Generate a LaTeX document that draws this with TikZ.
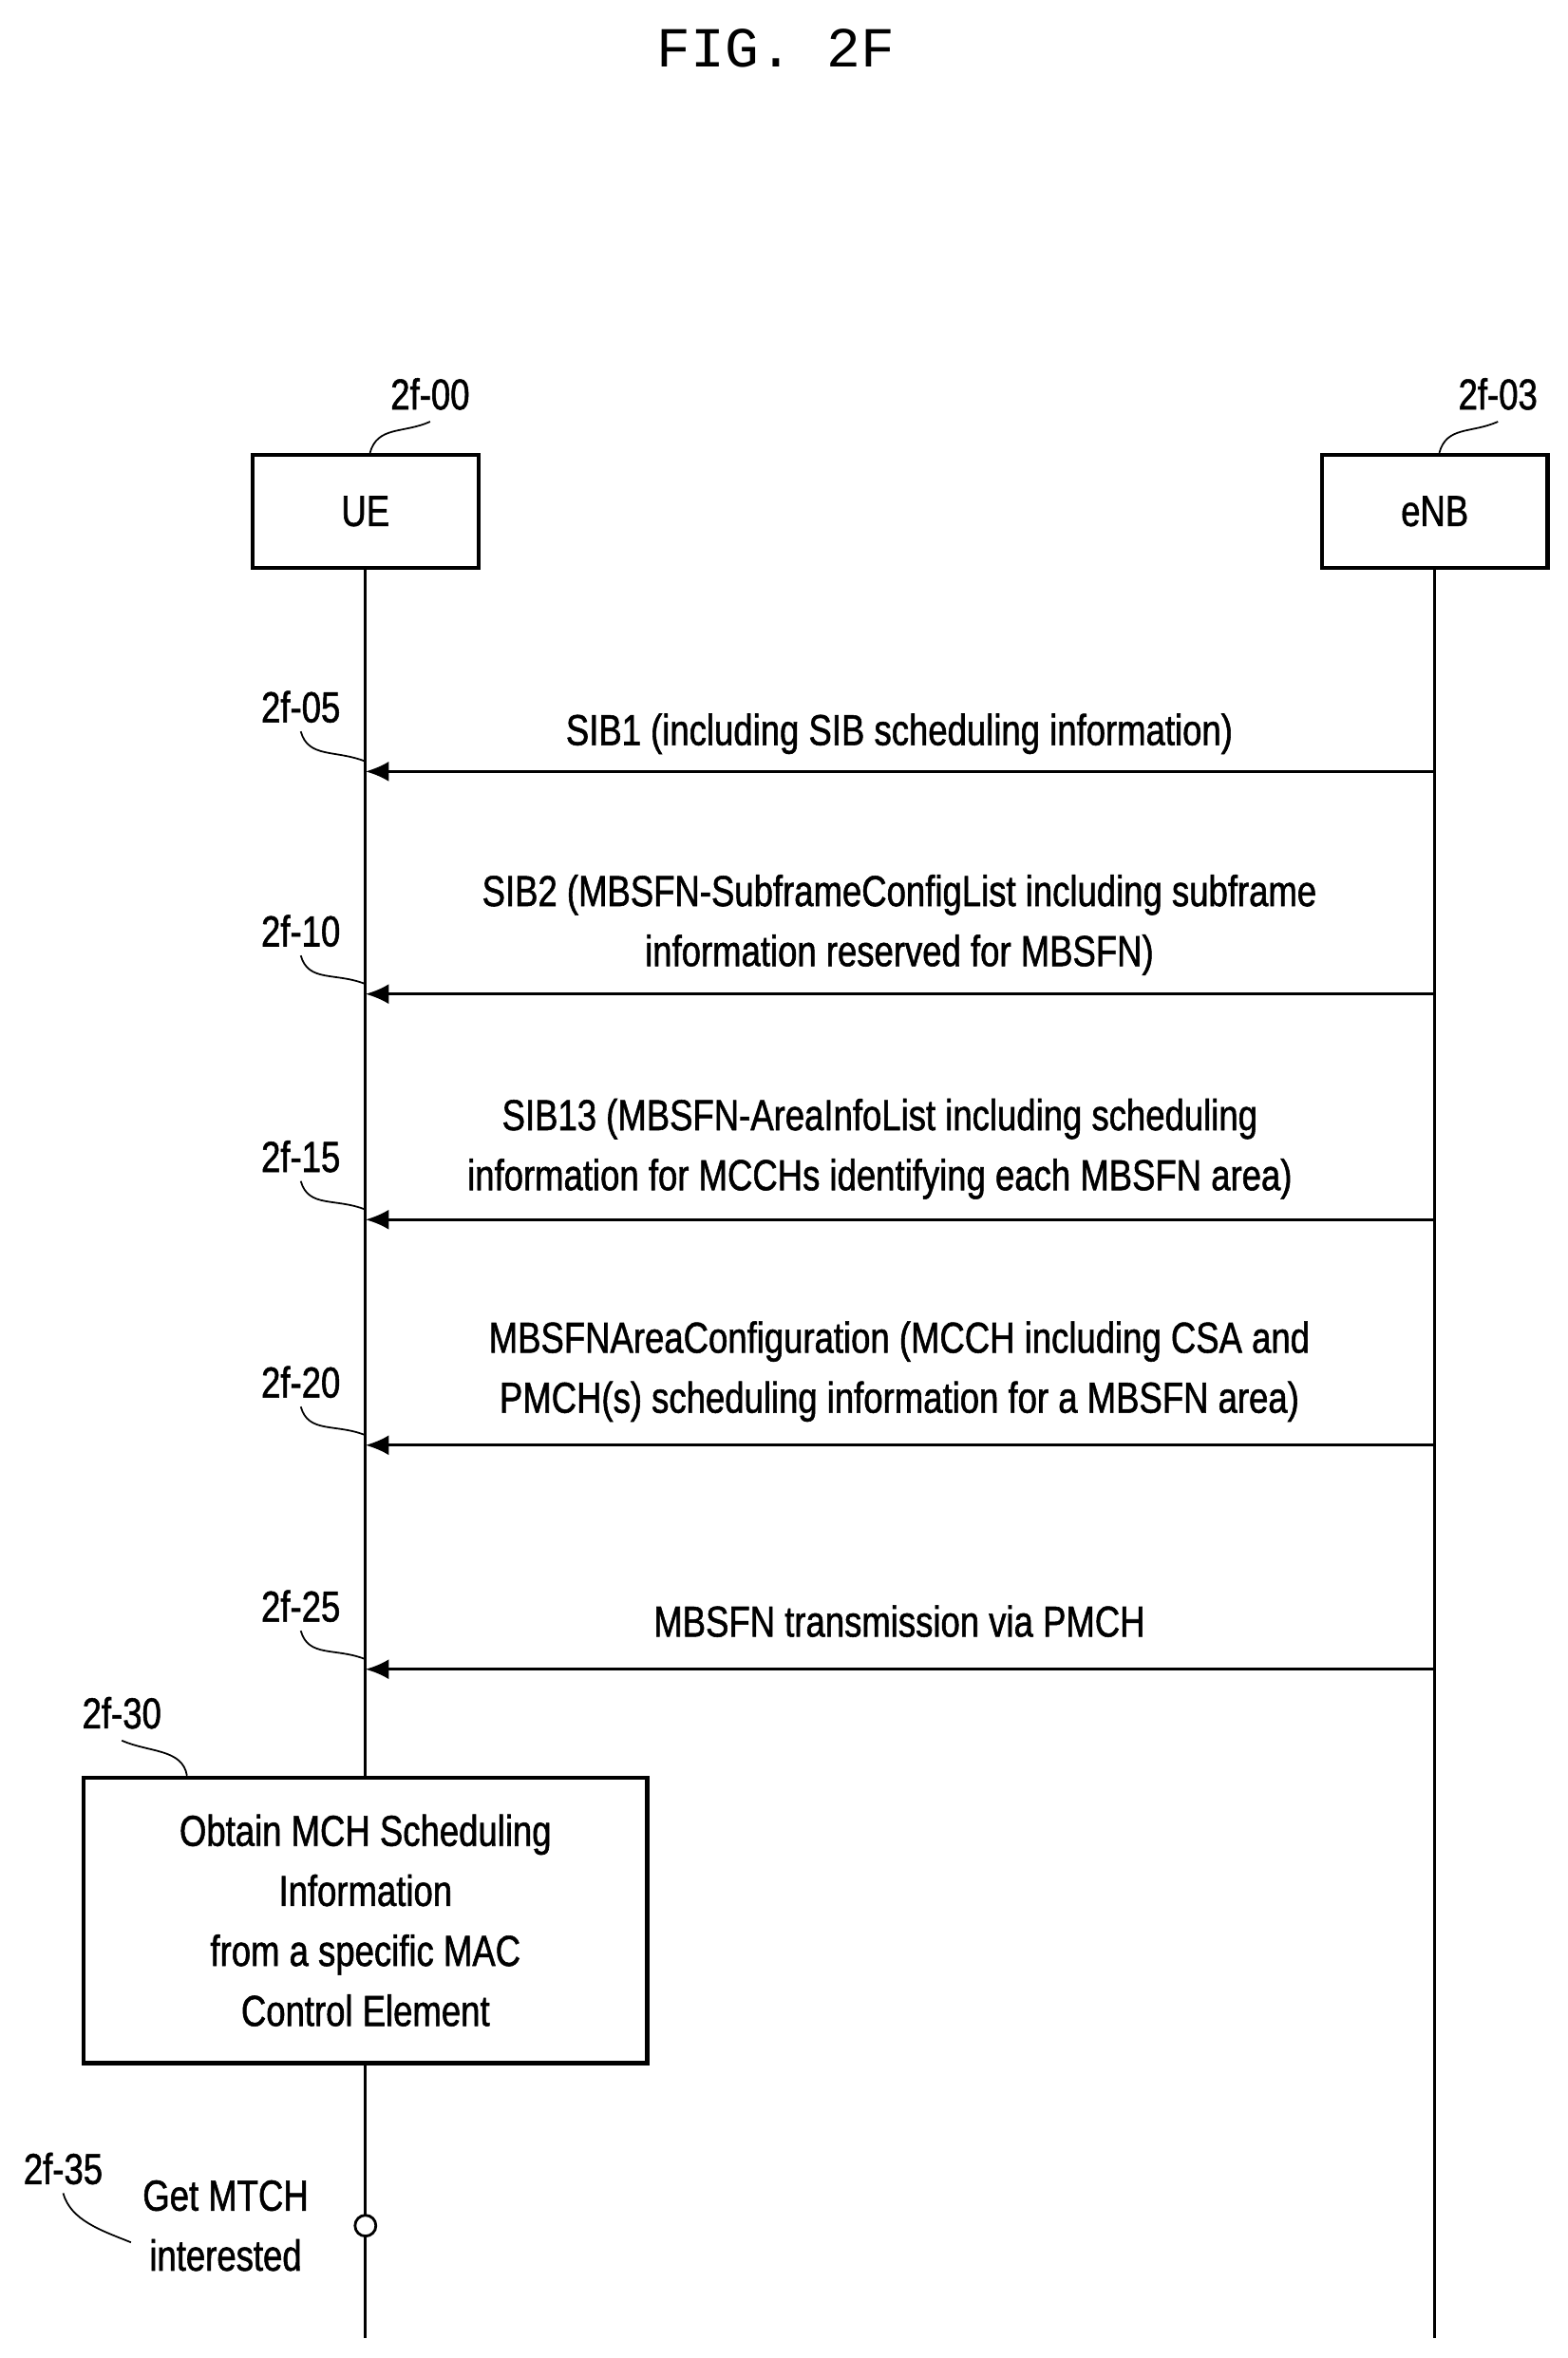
\documentclass[tikz,border=0pt]{standalone}
\usepackage{fontspec}
\setmainfont{Liberation Sans}[FakeStretch=0.8,FakeBold=1.2]
\newfontfamily\figfont{Liberation Mono}
\usetikzlibrary{arrows.meta}
\tikzset{
	ent/.style={draw,line width=1.2pt,minimum width=2.38cm,minimum height=1.19cm,font=\fontsize{13}{15}\selectfont},
	lbl/.style={font=\fontsize{13}{15}\selectfont},
	msg/.style={font=\fontsize{13}{18}\selectfont,align=center},
	sig/.style={-{Latex[length=7pt,width=6pt]},line width=0.8pt},
	wig/.style={line width=0.5pt}
}
\begin{document}
\begin{tikzpicture}[x=0.01585cm,y=-0.01585cm]
		\useasboundingbox (0,0) rectangle (1042,1568);
		\node[font=\figfont\fontsize{17}{20}\selectfont] (title) at (516,32) {FIG. 2F};

		\node[ent] (ue) at (243,340) {UE};
		\node[ent] (enb) at (954,340) {eNB};
		
		\coordinate (ueend) at (243,1555);
		\coordinate (enbend) at (954,1555);
		\draw[line width=0.8pt] (ue.south) -- (ueend);
		\draw[line width=0.8pt] (enb.south) -- (enbend);
		
		\node[lbl] (l00) at (286,262) {2f-00};
		\draw[wig] (ue.north) ++(3,0) .. controls +(5,-18) and +(-18,8) .. (l00.south);
		\node[lbl] (l03) at (996,262) {2f-03};
		\draw[wig] (enb.north) ++(3,0) .. controls +(5,-18) and +(-18,8) .. (l03.south);
		
		
		% messages from eNB to UE
		\coordinate (u05) at (243,513);  \coordinate (e05) at (954,513);
		\coordinate (u10) at (243,661);  \coordinate (e10) at (954,661);
		\coordinate (u15) at (243,811);  \coordinate (e15) at (954,811);
		\coordinate (u20) at (243,961);  \coordinate (e20) at (954,961);
		\coordinate (u25) at (243,1110); \coordinate (e25) at (954,1110);
		
		\draw[sig] (e05) -- (u05);
		\draw[sig] (e10) -- (u10);
		\draw[sig] (e15) -- (u15);
		\draw[sig] (e20) -- (u20);
		\draw[sig] (e25) -- (u25);
		
		\node[msg] (m05) at (598,488) {SIB1 (including SIB scheduling information)};
		\node[msg] (m10) at (598,615) {SIB2 (MBSFN-SubframeConfigList including subframe\\information reserved for MBSFN)};
		\node[msg] (m15) at (585,764) {SIB13 (MBSFN-AreaInfoList including scheduling\\information for MCCHs identifying each MBSFN area)};
		\node[msg] (m20) at (598,912) {MBSFNAreaConfiguration (MCCH including CSA and\\PMCH(s) scheduling information for a MBSFN area)};
		\node[msg] (m25) at (598,1078) {MBSFN transmission via PMCH};
		
		\node[lbl] (l05) at (200,470) {2f-05};
		\node[lbl] (l10) at (200,619) {2f-10};
		\node[lbl] (l15) at (200,769) {2f-15};
		\node[lbl] (l20) at (200,919) {2f-20};
		\node[lbl] (l25) at (200,1068) {2f-25};
		\draw[wig] (l05.south) ++(0,-2) .. controls +(5,18) and +(-20,-8) .. ([yshift=3]u05);
		\draw[wig] (l10.south) ++(0,-2) .. controls +(5,18) and +(-20,-8) .. ([yshift=3]u10);
		\draw[wig] (l15.south) ++(0,-2) .. controls +(5,18) and +(-20,-8) .. ([yshift=3]u15);
		\draw[wig] (l20.south) ++(0,-2) .. controls +(5,18) and +(-20,-8) .. ([yshift=3]u20);
		\draw[wig] (l25.south) ++(0,-2) .. controls +(5,18) and +(-20,-8) .. ([yshift=3]u25);
		
		
		% local step at UE
		\node[draw,fill=white,line width=1.2pt,minimum width=5.94cm,minimum height=3.01cm,msg] (obtain) at (243,1277)
			{Obtain MCH Scheduling\\Information\\from a specific MAC\\Control Element};
		\node[lbl] (l30) at (81,1139) {2f-30};
		\draw[wig] (obtain.north west) ++(70,0) .. controls +(-3,-18) and +(18,8) .. (l30.south);
		
		\node[circle,draw,fill=white,line width=0.8pt,inner sep=0pt,minimum size=0.22cm] (mtch) at (243,1480) {};
		\node[msg] (get) at (150,1480) {Get MTCH\\interested};
		\node[lbl] (l35) at (42,1442) {2f-35};
		\draw[wig] (l35.south) ++(0,-2) .. controls +(5,18) and +(-20,-8) .. ([yshift=-5]get.west);
	
	\end{tikzpicture}
\end{document}
